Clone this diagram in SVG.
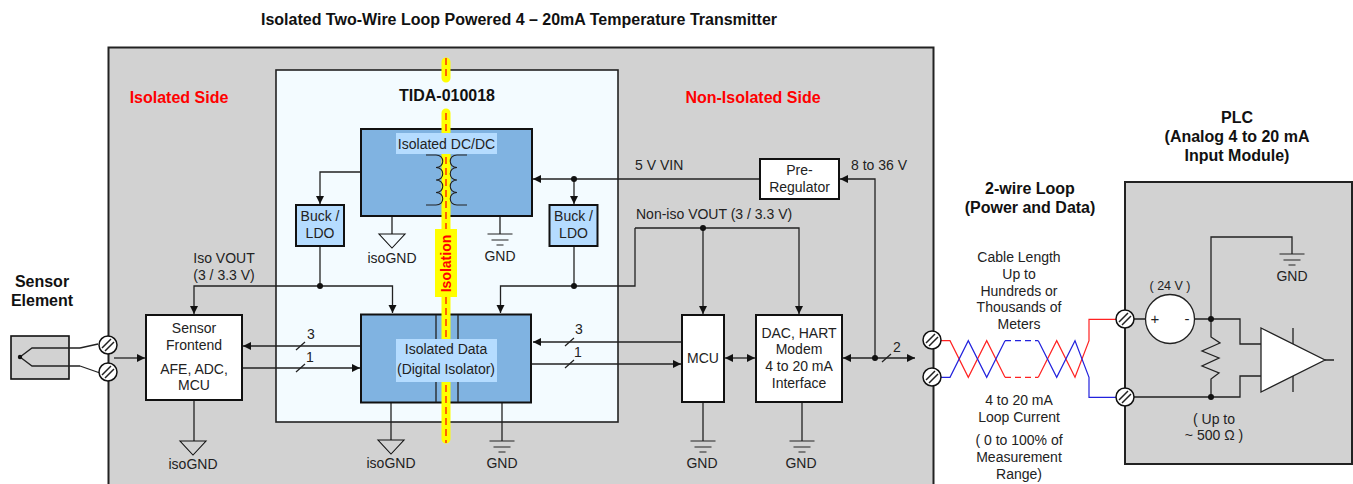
<svg xmlns="http://www.w3.org/2000/svg" width="1353" height="484" viewBox="0 0 1353 484">
<style>
text{font-family:"Liberation Sans",Arial,sans-serif;font-size:14px;fill:#222;text-anchor:middle}
.b{font-weight:bold;fill:#111;font-size:16px}
.r{font-weight:bold;fill:#f00;font-size:16px}
.s{text-anchor:start}
.box{fill:#fff;stroke:#111;stroke-width:2}
.blue{fill:#80b3e1;stroke:#111;stroke-width:2}
.lt{fill:#b5dcff;stroke:#111;stroke-width:2}
.w{fill:none;stroke:#222;stroke-width:1.3}
.a{marker-end:url(#arr)}
.d{marker-start:url(#arrs);marker-end:url(#arr)}
.dot{fill:#111}
.tr{fill:none;stroke:#111;stroke-width:1.1}
.g{fill:none;stroke:#222;stroke-width:1.1}
.term circle{fill:#fff;stroke:#111;stroke-width:1.5}
.term path{fill:none;stroke:#222;stroke-width:1.5}
</style>
<defs>
<marker id="arr" markerUnits="userSpaceOnUse" markerWidth="10" markerHeight="10" refX="9" refY="5" orient="auto"><path d="M1,1L9,5L1,9z" fill="#111"/></marker>
<marker id="arrs" markerUnits="userSpaceOnUse" markerWidth="10" markerHeight="10" refX="1" refY="5" orient="auto"><path d="M9,1L1,5L9,9z" fill="#111"/></marker>
<g id="tm" class="term"><circle r="9"/><path d="M-6,3L3,-6M-3,6L6,-3"/></g>
<g id="gnd" class="g"><path d="M-12.500,0H12.500M-8.500,6H8.500M-3.500,11H3.500"/></g>
<path id="iso" class="tr" d="M-13,0H13L0,14z"/>
</defs>

<rect id="panel" x="108.500" y="47.500" width="825" height="450" fill="#d2d2d2" stroke="#222" stroke-width="2"/>
<rect id="tida" x="276" y="70" width="342" height="352" fill="#f3fbff" stroke="#222" stroke-width="1.600"/>
<rect id="plc" x="1125" y="182" width="227" height="282" fill="#d2d2d2" stroke="#222" stroke-width="2"/>

<text class="b" x="519" y="25">Isolated Two-Wire Loop Powered 4 – 20mA Temperature Transmitter</text>
<text class="r" x="179" y="103">Isolated Side</text>
<text class="r" x="753" y="103">Non-Isolated Side</text>
<text class="b" x="447" y="101">TIDA-010018</text>
<text class="b" x="42" y="287">Sensor</text>
<text class="b" x="42" y="306">Element</text>
<text class="b" x="1237" y="123">PLC</text>
<text class="b" x="1237" y="142">(Analog 4 to 20 mA</text>
<text class="b" x="1237" y="161">Input Module)</text>
<text class="b" x="1030" y="194">2-wire Loop</text>
<text class="b" x="1030" y="213">(Power and Data)</text>

<g id="connectors">
<path class="w" d="M80,348L98,344M80,366L100,373"/>
<path class="w a" d="M114,358H145"/>
<path class="w a" d="M320,286H194V314"/>
<path class="w a" d="M320,286H392.500V313"/>
<path class="w" d="M320,246V286"/>
<path class="w a" d="M361,172H320V204"/>
<path class="w a" d="M635,228V286H500.500V313"/>
<path class="w" d="M574,246V286"/>
<path class="w a" d="M635,228H799V314"/>
<path class="w a" d="M703,228V314"/>
<path class="w a" d="M760,179H533"/>
<path class="w a" d="M574,179V204"/>
<path class="w" d="M392,217V234M500,217V234M194,401V441M391,403V440M502,403V441M703,403V441M802,403V441"/>
<path class="w a" d="M360,346H243"/>
<path class="w a" d="M243,368H360"/>
<path class="w a" d="M681,342H533"/>
<path class="w a" d="M532,364H681"/>
<path class="w d" d="M725,358H755"/>
<path class="w d" d="M843,358H915"/>
<path class="w a" d="M875,358V179H840"/>
<path class="w" d="M296,350L305,342M296,372L305,364M565,346L574,338M565,368L574,360M882,362L891,354"/>
<path d="M941,340.700H950L968.300,377.300L986.700,340.700L1005,377.300" fill="none" stroke="#f22" stroke-width="1.200"/>
<path d="M1005,377.300H1038.300" fill="none" stroke="#f22" stroke-width="1.200" stroke-dasharray="6 4"/>
<path d="M1038.300,377.300L1056.700,340.700L1075,377.300L1089,340.700V319.300H1116" fill="none" stroke="#f22" stroke-width="1.200"/>
<path d="M941,377.300H950L968.300,340.700L986.700,377.300L1005,340.700" fill="none" stroke="#22d" stroke-width="1.200"/>
<path d="M1005,340.700H1038.300" fill="none" stroke="#22d" stroke-width="1.200" stroke-dasharray="6 4"/>
<path d="M1038.300,340.700L1056.700,377.300L1075,340.700L1089,377.300V397.300H1116" fill="none" stroke="#22d" stroke-width="1.200"/>
<path class="w" d="M1134,319H1145M1195,319H1240V344H1261M1211,319V237H1292V254"/>
<path class="w" d="M1134,397H1240V376H1261M1211,319V337L1220,343L1202,351L1219,358L1202,366L1219,373L1211,379V397"/>
<path class="w" d="M1325,360H1334M1293,328V344M1293,376V392"/>
<circle class="dot" cx="320" cy="286" r="3"/>
<circle class="dot" cx="574" cy="286" r="3"/>
<circle class="dot" cx="574" cy="179" r="3"/>
<circle class="dot" cx="703" cy="228" r="3"/>
<circle class="dot" cx="875" cy="358" r="3"/>
<circle class="dot" cx="1211" cy="319" r="3"/>
<circle class="dot" cx="1211" cy="397" r="3"/>
</g>

<g id="sensor-element">
<rect x="11" y="336" width="58" height="43" fill="#d2d2d2" stroke="#111" stroke-width="1.600"/>
<path class="w" d="M80,348H32L20,357L32,366H80"/>
<circle class="dot" cx="20" cy="357" r="2.200"/>
</g>
<g id="sensor-frontend">
<rect class="box" x="146" y="315" width="96" height="85"/>
<text x="194" y="333">Sensor</text><text x="194" y="350">Frontend</text>
<text x="194" y="374">AFE, ADC,</text><text x="194" y="390">MCU</text>
</g>
<g id="dcdc">
<rect class="blue" x="361" y="129" width="171" height="87"/>
</g>
<g id="isolated-data">
<rect class="blue" x="361" y="314.500" width="170" height="88"/>
<path class="w" d="M436,315V402M458,315V402"/>
</g>
<g id="barrier">
<path d="M446,62V78M446,113V229M446,297V439" fill="none" stroke="#ff0" stroke-width="9" stroke-linecap="round"/>
<path d="M446,58V78M446,113V229M446,297V443" fill="none" stroke="#f00" stroke-width="1.200" stroke-dasharray="7 4"/>
<rect x="435" y="229" width="22" height="68" fill="#ff0"/>
<text class="r" style="font-size:14px" transform="translate(451,263.500) rotate(-90)">Isolation</text>
</g>
<g id="dcdc-label">
<rect x="396" y="133" width="101" height="21" fill="#b5dcff"/>
<text x="446.500" y="148.500">Isolated DC/DC</text>
<path class="g" d="M426,155H436C445,155 445,167.500 436,167.500C445,167.500 445,180 436,180C445,180 445,192.500 436,192.500C445,192.500 445,205 436,205H426"/>
<path class="g" d="M467,155H457C448,155 448,167.500 457,167.500C448,167.500 448,180 457,180C448,180 448,192.500 457,192.500C448,192.500 448,205 457,205H467"/>
</g>
<g id="data-label">
<rect x="396" y="339" width="101" height="43" fill="#b5dcff"/>
<text x="446" y="354">Isolated Data</text><text x="446" y="374">(Digital Isolator)</text>
</g>
<g id="buck-left"><rect class="lt" x="296" y="205" width="48" height="41"/><text x="320" y="221">Buck /</text><text x="320" y="238">LDO</text></g>
<g id="buck-right"><rect class="lt" x="549.500" y="205" width="48" height="41"/><text x="573.500" y="221">Buck /</text><text x="573.500" y="238">LDO</text></g>
<g id="mcu"><rect class="box" x="682" y="315" width="42" height="87"/><text x="703" y="363">MCU</text></g>
<g id="dac"><rect class="box" x="756" y="315" width="86" height="87"/>
<text x="799" y="338">DAC, HART</text><text x="799" y="354">Modem</text><text x="799" y="371">4 to 20 mA</text><text x="799" y="388">Interface</text></g>
<g id="pre-regulator"><rect class="box" x="760" y="159" width="79" height="40"/><text x="799.500" y="175">Pre-</text><text x="799.500" y="192">Regulator</text></g>

<g id="grounds">
<use href="#iso" x="392" y="234"/><text x="392" y="263">isoGND</text>
<use href="#gnd" x="500" y="234"/><text x="500" y="261">GND</text>
<use href="#iso" x="193" y="441"/><text x="193" y="469">isoGND</text>
<use href="#iso" x="391" y="440"/><text x="391" y="468">isoGND</text>
<use href="#gnd" x="502" y="441"/><text x="502" y="468">GND</text>
<use href="#gnd" x="703" y="441"/><text x="702" y="468">GND</text>
<use href="#gnd" x="802" y="441"/><text x="801" y="468">GND</text>
<use href="#gnd" x="1292" y="254"/><text x="1292" y="281">GND</text>
</g>
<g id="terminals">
<use href="#tm" x="108" y="345"/><use href="#tm" x="108" y="372"/>
<use href="#tm" x="932" y="340"/><use href="#tm" x="932" y="377"/>
<use href="#tm" x="1125" y="319"/><use href="#tm" x="1125" y="397"/>
</g>
<g id="source"><circle cx="1170" cy="319" r="24.500" fill="#fff" stroke="#222" stroke-width="1.300"/>
<text x="1155" y="324" style="font-size:15px">+</text><text x="1187" y="324" style="font-size:15px">-</text>
<text x="1170" y="290" style="font-size:12.500px">( 24 V )</text></g>
<g id="amplifier"><path d="M1261,328L1325,360L1261,392z" fill="#fff" stroke="#222" stroke-width="1.300"/></g>

<g id="labels">
<text x="224" y="263">Iso VOUT</text><text x="224" y="280">(3 / 3.3 V)</text>
<text class="s" x="635" y="170">5 V VIN</text>
<text class="s" x="851" y="170">8 to 36 V</text>
<text class="s" x="636" y="219">Non-iso VOUT (3 / 3.3 V)</text>
<text x="311" y="339">3</text><text x="310" y="362">1</text>
<text x="579" y="334">3</text><text x="578" y="357">1</text>
<text x="897" y="352">2</text>
<text x="1019" y="262">Cable Length</text><text x="1019" y="279">Up to</text><text x="1019" y="296">Hundreds or</text><text x="1019" y="312">Thousands of</text><text x="1019" y="329">Meters</text>
<text x="1019" y="405">4 to 20 mA</text><text x="1019" y="422">Loop Current</text>
<text x="1019" y="445">( 0 to 100% of</text><text x="1019" y="462">Measurement</text><text x="1019" y="479">Range)</text>
<text x="1214" y="424">( Up to</text><text x="1214" y="440">~ 500 Ω )</text>
</g>
</svg>
